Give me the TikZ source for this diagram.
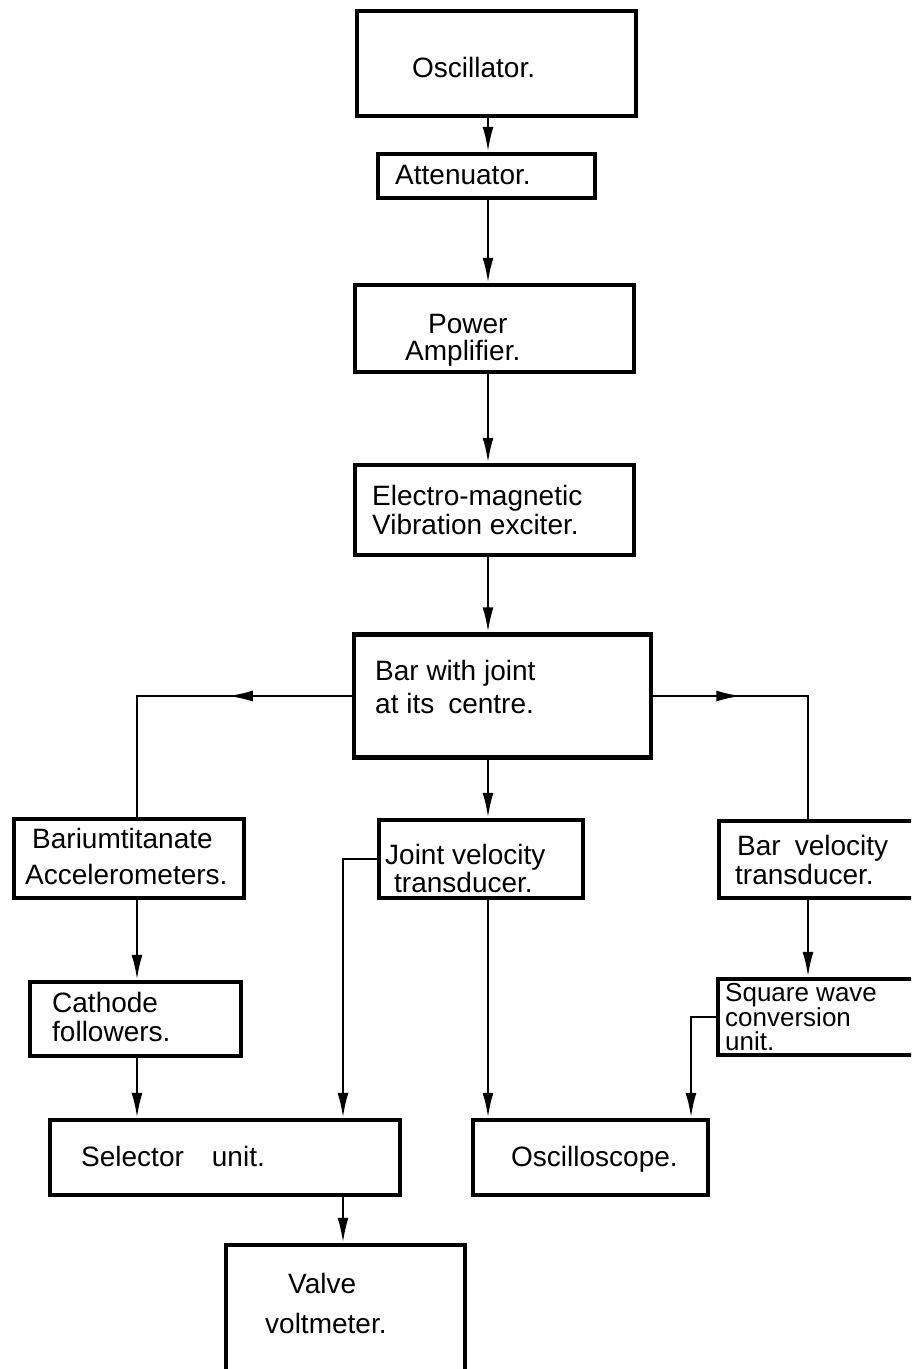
\documentclass[tikz,border=0pt]{standalone}
\usepackage{fontspec}
\setmainfont{Liberation Sans}
\usetikzlibrary{arrows.meta,positioning,decorations.markings}
\newcommand\boxtext[3]{%
\node[txt] (#1) at (#2) {#3};
}

\begin{document}
\begin{tikzpicture}[x=1pt,y=-1pt,
	blk/.style={draw,line width=4.5pt,inner sep=0pt},
	txt/.style={anchor=base west,inner sep=0pt,font=\fontsize{28}{30}\selectfont},
	small/.style={font=\fontsize{26}{28}\selectfont},
	wire/.style={line width=2.4pt},
	arr/.style={wire,-{Latex[length=25pt,width=11pt]}},
	midarr/.style={postaction={decorate},decoration={markings,
		mark=at position #1 with {\arrow{Latex[length=25pt,width=11pt]}}}}]
	%% page
	\useasboundingbox (0,0) rectangle (911,1369);
	\fill[white] (0,0) rectangle (911,1369);
	\clip (0,0) rectangle (911,1369);

	\coordinate (spine) at (488,0); % main column
	\coordinate (lft) at (137,0);
	\coordinate (ctr) at (343,0);
	\coordinate (rgt) at (808,0);
	\coordinate (scp) at (691,0);

	% boxes
	\node[blk,minimum width=279pt,minimum height=105pt] (osc) at (496.5,63.5) {};
	\node[blk,minimum width=217pt,minimum height=44pt] (att) at (486.5,176) {};
	\node[blk,minimum width=279pt,minimum height=87pt] (amp) at (494.5,328.5) {};
	\node[blk,minimum width=279pt,minimum height=90pt] (exc) at (494.5,510) {};
	\node[blk,minimum width=297pt,minimum height=123pt] (bar) at (502.5,696) {};
	\node[blk,minimum width=230pt,minimum height=79pt] (acc) at (129,858.5) {};
	\node[blk,minimum width=204pt,minimum height=78pt] (jvt) at (481,859) {};
	\node[blk,minimum width=204pt,minimum height=77pt] (bvt) at (821,859.5) {};
	\node[blk,minimum width=211pt,minimum height=74pt] (cat) at (135.5,1019) {};
	\node[blk,minimum width=205pt,minimum height=76pt] (sqw) at (820.5,1017) {};
	\node[blk,minimum width=350pt,minimum height=75pt] (sel) at (225,1157.5) {};
	\node[blk,minimum width=235pt,minimum height=75pt] (osp) at (590.5,1157.5) {};
	\node[blk,minimum width=239pt,minimum height=133pt] (vvm) at (345.5,1311.5) {};

	% texts
	\boxtext{osc1}{412,77}{Oscillator.}
	\boxtext{att1}{395,184}{Attenuator.}
	\boxtext{amp1}{428,333}{Power}
	\boxtext{amp2}{405,360}{Amplifier.}
	\boxtext{exc1}{372,505}{Electro-magnetic}
	\boxtext{exc2}{372,534}{Vibration exciter.}
	\boxtext{bar1}{375,680}{Bar with joint}
	\boxtext{bar2}{375,713}{at its\enspace centre.}
	\boxtext{acc1}{32,848}{Bariumtitanate}
	\boxtext{acc2}{25,884}{Accelerometers.}
	\boxtext{jvt1}{385,864}{Joint velocity}
	\boxtext{jvt2}{394,892}{transducer.}
	\boxtext{bvt1}{737,855}{Bar\enspace velocity}
	\boxtext{bvt2}{735,884}{transducer.}
	\boxtext{cat1}{52,1012}{Cathode}
	\boxtext{cat2}{52,1041}{followers.}
	\node[txt,small] (sqw1) at (725,1001) {Square wave};
	\node[txt,small] (sqw2) at (725,1026) {conversion};
	\node[txt,small] (sqw3) at (725,1050) {unit.};
	\boxtext{sel1}{81,1166}{Selector\hspace{1em}unit.}
	\boxtext{osp1}{511,1166}{Oscilloscope.}
	\boxtext{vvm1}{288,1293}{Valve}
	\boxtext{vvm2}{265,1333}{voltmeter.}

	% connectors
	\draw[arr] (osc.south -| spine) -- (att.north -| spine);
	\draw[arr] (att.south -| spine) -- (amp.north -| spine);
	\draw[arr] (amp.south -| spine) -- (exc.north -| spine);
	\draw[arr] (exc.south -| spine) -- (bar.north -| spine);
	\draw[arr] (bar.south -| spine) -- (jvt.north -| spine);
	\draw[arr] (jvt.south -| spine) -- (osp.north -| spine);
	\draw[wire,midarr=124pt] (bar.west) -- (bar.west -| lft) -- (acc.north -| lft);
	\draw[wire,midarr=88pt] (bar.east) -- (bar.east -| rgt) -- (bvt.north -| rgt);
	\draw[arr] (acc.south -| lft) -- (cat.north -| lft);
	\draw[arr] (cat.south -| lft) -- (sel.north -| lft);
	\draw[arr] (jvt.west) -- (jvt.west -| ctr) -- (sel.north -| ctr);
	\draw[arr] (bvt.south -| rgt) -- (sqw.north -| rgt);
	\draw[arr] (sqw.west) -- (sqw.west -| scp) -- (osp.north -| scp);
	\draw[arr] (sel.south -| ctr) -- (vvm.north -| ctr);
\end{tikzpicture}
\end{document}
